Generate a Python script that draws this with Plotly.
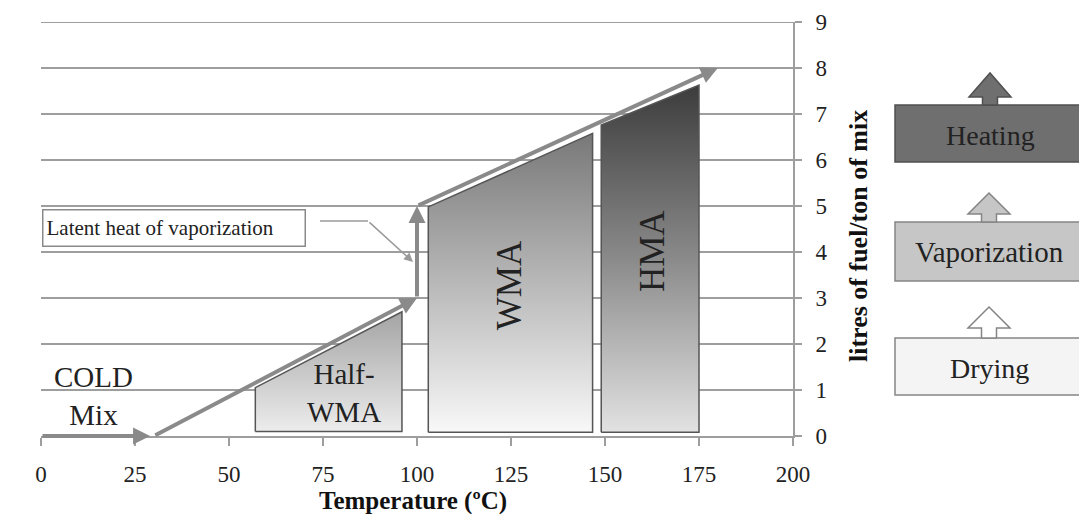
import plotly.graph_objects as go

# ---------------- data ----------------
x_ticks = [0, 25, 50, 75, 100, 125, 150, 175, 200]
y_ticks = [0, 1, 2, 3, 4, 5, 6, 7, 8, 9]

cold_x = [0, 29]
cold_y = [0, 0]
heat1_x = [30, 100]
heat1_y = [0, 3]
latent_x = [100, 100]
latent_y = [3, 5]
heat2_x = [100, 180]
heat2_y = [5, 8]

half_wma_x = [57, 57, 96, 96, 57]
half_wma_y = [0.1, 1.05, 2.7, 0.1, 0.1]
wma_x = [103, 103, 146.7, 146.7, 103]
wma_y = [0.08, 4.98, 6.58, 0.08, 0.08]
hma_x = [149, 149, 175, 175, 149]
hma_y = [0.08, 6.76, 7.63, 0.08, 0.08]

region_labels = ["COLD<br>Mix", "Half-<br>WMA", "WMA", "HMA"]
region_label_x = [14, 80.5, 124.5, 162.5]
region_label_y = [0.86, 0.93, 3.28, 4.02]
region_label_angle = [0, 0, -90, -90]

stage_labels = ["Heating", "Vaporization", "Drying"]
latent_label = "Latent heat of vaporization"
x_title = "<b>Temperature (ºC)</b>"
y_title = "<b>litres of fuel/ton of mix</b>"

# ---------------- layout geometry ----------------
W, H = 1079, 514
L, T, PW, PH = 41, 22, 752, 414
SERIF = "Liberation Serif, Times New Roman, serif"
GRID = "#9e9e9e"


def pxx(px):
    return (px - L) / PW


def pxy(py):
    return (T + PH - py) / PH


fig = go.Figure()

# region polygons with vertical gradients
polys = [
    (half_wma_x, half_wma_y, [[0, "#ececec"], [1, "#a4a4a4"]]),
    (wma_x, wma_y, [[0, "#f8f8f8"], [1, "#787878"]]),
    (hma_x, hma_y, [[0, "#e2e2e2"], [0.5, "#8a8a8a"], [1, "#3c3c3c"]]),
]
for px_, py_, cs in polys:
    fig.add_trace(go.Scatter(
        x=px_, y=py_, mode="lines", fill="toself",
        line=dict(color="#555555", width=1.5),
        fillgradient=dict(type="vertical", colorscale=cs),
        hoverinfo="skip", showlegend=False,
    ))

# top gridline at the last y tick
fig.add_shape(type="line", xref="paper", yref="y", x0=0, x1=1,
              y0=y_ticks[-1], y1=y_ticks[-1], line=dict(color=GRID, width=1.8))

# heating / latent arrows
arrow_color = "#8a8a8a"
for xs, ys in [(cold_x, cold_y), (heat1_x, heat1_y), (latent_x, latent_y), (heat2_x, heat2_y)]:
    fig.add_annotation(
        x=xs[1], y=ys[1], ax=xs[0], ay=ys[0], xref="x", yref="y",
        axref="x", ayref="y", text="", showarrow=True,
        arrowhead=2, arrowsize=0.85, arrowwidth=4, arrowcolor=arrow_color,
    )

# region labels
for t, x, y, a in zip(region_labels, region_label_x, region_label_y, region_label_angle):
    fig.add_annotation(
        x=x, y=y, xref="x", yref="y", text=t, showarrow=False,
        xanchor="center", yanchor="middle",
        textangle=a, font=dict(family=SERIF, size=35 if a else 29, color="#222222"),
    )

# latent heat box + connector
fig.add_annotation(
    x=pxx(42), y=pxy(227.5), xref="paper", yref="paper", xanchor="left", yanchor="middle",
    text=latent_label, showarrow=False, align="left",
    width=255, height=29, borderpad=3, bgcolor="white",
    bordercolor="#8a8a8a", borderwidth=1.5,
    font=dict(family=SERIF, size=21, color="#222222"),
)
fig.add_shape(type="line", xref="paper", yref="paper",
              x0=pxx(320), y0=pxy(221), x1=pxx(368), y1=pxy(221),
              line=dict(color="#9a9a9a", width=1.5))
fig.add_annotation(
    x=pxx(413), y=pxy(262), ax=-45, ay=-41, xref="paper", yref="paper",
    axref="pixel", ayref="pixel", text="", showarrow=True,
    arrowhead=2, arrowsize=1.2, arrowwidth=1.5, arrowcolor="#9a9a9a",
)

# stage boxes on the right
stage_boxes = [
    (105, 162, 73, 97, "#6f6f6f", "#505050", 990),
    (222, 281, 193, 214, "#c6c6c6", "#858585", 989),
    (338, 395, 307, 328, "#f4f4f4", "#858585", 989),
]
stage_text_y = [135, 252, 368]
stage_font = [28, 29, 28]
for (top, bot, tip, base, fc, lc, cx), lab, ty, fs in zip(stage_boxes, stage_labels, stage_text_y, stage_font):
    fig.add_shape(type="rect", xref="paper", yref="paper",
                  x0=pxx(895), x1=pxx(1082), y0=pxy(bot), y1=pxy(top),
                  fillcolor=fc, line=dict(color=lc, width=1.5))
    arrow_fill = fc if fc != "#f4f4f4" else "#ffffff"
    pts = [(cx - 7.5, top), (cx - 7.5, base), (cx - 21, base), (cx, tip),
           (cx + 21, base), (cx + 7.5, base), (cx + 7.5, top)]
    path = "M " + " L ".join(f"{pxx(a):.5f},{pxy(b):.5f}" for a, b in pts) + " Z"
    fig.add_shape(type="path", xref="paper", yref="paper", path=path,
                  fillcolor=arrow_fill, line=dict(color=lc, width=1.5))
    fig.add_annotation(x=pxx(cx), y=pxy(ty), xref="paper", yref="paper",
                       xanchor="center", yanchor="middle",
                       text=lab, showarrow=False,
                       font=dict(family=SERIF, size=fs, color="#222222"))

# axis titles as annotations for exact placement
fig.add_annotation(x=pxx(413), y=pxy(501), xref="paper", yref="paper",
                   xanchor="center", yanchor="middle", text=x_title, showarrow=False,
                   font=dict(family=SERIF, size=25, color="#111111"))
fig.add_annotation(x=pxx(858), y=pxy(236), xref="paper", yref="paper",
                   xanchor="center", yanchor="middle", text=y_title, showarrow=False,
                   textangle=-90, font=dict(family=SERIF, size=26, color="#111111"))

fig.update_layout(
    width=W, height=H, autosize=False,
    margin=dict(l=L, r=W - L - PW, t=T, b=H - T - PH),
    plot_bgcolor="white", paper_bgcolor="white",
    showlegend=False,
    font=dict(family=SERIF, color="#222222"),
    xaxis=dict(
        range=[0, 200], tickvals=x_ticks, ticktext=[str(v) for v in x_ticks],
        automargin=False,
        showgrid=False, zeroline=False, showline=True, linecolor=GRID, linewidth=1.8,
        ticks="outside", ticklen=8, tickcolor=GRID, tickwidth=1.5,
        tickfont=dict(family=SERIF, size=23, color="#222222"),
        ticklabelstandoff=8,
    ),
    yaxis=dict(
        range=[0, 9], tickvals=y_ticks, side="right",
        automargin=False,
        showgrid=True, gridcolor=GRID, gridwidth=1.8, zeroline=False,
        showline=True, linecolor=GRID, linewidth=1.8,
        ticks="outside", ticklen=7, tickcolor=GRID, tickwidth=1.5,
        tickfont=dict(family=SERIF, size=23, color="#222222"),
        ticklabelstandoff=9,
    ),
)

fig.write_html("out.html")
